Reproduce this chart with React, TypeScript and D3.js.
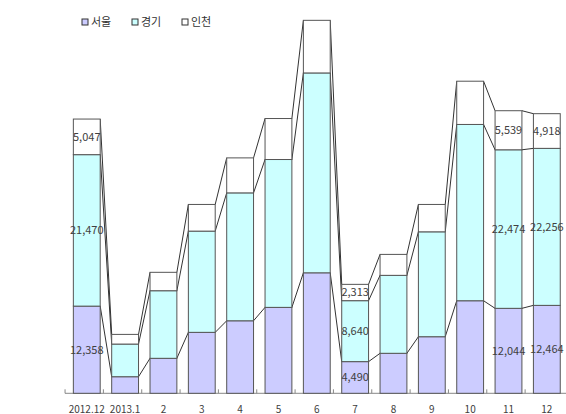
import React from 'react';
import * as d3 from 'd3';

// months on the x axis
const months = ['2012.12', '2013.1', '2', '3', '4', '5', '6', '7', '8', '9', '10', '11', '12'];

// stacked series, bottom to top
const seoul = [12358, 2350, 4960, 8640, 10280, 12180, 17080, 4490, 5670, 8020, 13120, 12044, 12464];
const gyeonggi = [21470, 4630, 9580, 14350, 18130, 20960, 28330, 8640, 11050, 14870, 24990, 22474, 22256];
const incheon = [5047, 1370, 2610, 3780, 4960, 5810, 7460, 2313, 2970, 3880, 6130, 5539, 4918];

const seriesNames = ['서울', '경기', '인천'];
const seriesColors = ['#ccccff', '#ccffff', '#ffffff'];

// months whose values are printed on the bars
const labeledMonths = ['2012.12', '7', '11', '12'];

const W = 566;
const H = 414;
const FONT = '"Noto Sans CJK KR", "Noto Sans", sans-serif';

const App = () => {
  const rows = months.map((m, i) => ({ month: m, 서울: seoul[i], 경기: gyeonggi[i], 인천: incheon[i] }));
  const stacked = d3.stack<any>().keys(seriesNames)(rows);

  const x = d3.scaleBand()
    .domain(months)
    .range([67.6, 566])
    .paddingInner(0.3)
    .paddingOuter(0.15);

  const y = d3.scaleLinear()
    .domain([0, 55000])
    .range([393.3, 5.3]);

  const bw = x.bandwidth();
  const fmt = d3.format(',');
  const baseY = y(0);

  return (
    <svg width={W} height={H} style={{ position: 'absolute', left: 0, top: 0, background: '#fff' }} fontFamily={FONT}>
      {/* legend */}
      <g fontSize={11} fill="#333">
        {seriesNames.map((name, i) => (
          <g key={name} transform={`translate(${82 + i * 50},22)`}>
            <rect x={0} y={-3} width={6} height={6} fill={seriesColors[i]} stroke="#333" strokeWidth={1} />
            <text x={9} y={0} dy="0.35em">{name}</text>
          </g>
        ))}
      </g>

      {/* axis line and ticks */}
      <line x1={65} x2={W} y1={baseY} y2={baseY} stroke="#888" />
      {months.map(m => (
        <line key={'t' + m} x1={(x(m) as number) - 8.3} x2={(x(m) as number) - 8.3} y1={baseY - 4} y2={baseY} stroke="#888" />
      ))}

      {/* series lines between bars */}
      {stacked.map((s, si) => (
        <g key={'l' + si}>
          {s.slice(0, -1).map((d, i) => {
            const m0 = months[i];
            const m1 = months[i + 1];
            return (
              <line key={i}
                x1={(x(m0) as number) + bw} y1={y(d[1])}
                x2={x(m1) as number} y2={y(s[i + 1][1])}
                stroke="#333" strokeWidth={1} />
            );
          })}
        </g>
      ))}

      {/* bars */}
      {stacked.map((s, si) => (
        <g key={'b' + si} fill={seriesColors[si]}>
          {s.map((d, i) => (
            <rect key={i}
              x={x(months[i])}
              y={y(d[1])}
              width={bw}
              height={y(d[0]) - y(d[1])}
              stroke="#555" strokeWidth={1} />
          ))}
        </g>
      ))}

      {/* data labels */}
      <g fontSize={11} fill="#404040" textAnchor="middle">
        {stacked.map((s, si) => s.map((d, i) => {
          const m = months[i];
          if (!labeledMonths.includes(m)) return null;
          return (
            <text key={si + '-' + i}
              x={(x(m) as number) + bw / 2}
              y={(y(d[0]) + y(d[1])) / 2}
              dy="0.35em">{fmt(d[1] - d[0])}</text>
          );
        }))}
      </g>

      {/* x labels */}
      <g fontSize={10} fill="#404040" textAnchor="middle">
        {months.map(m => (
          <text key={'x' + m} x={(x(m) as number) + bw / 2} y={409} dy="0.35em">{m}</text>
        ))}
      </g>
    </svg>
  );
};

export default App;
